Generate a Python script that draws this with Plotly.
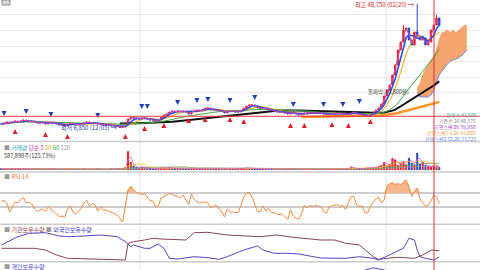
import plotly.graph_objects as go
import pandas as pd

# ---------------- data ----------------
close = [
    8190, 8530, 8870, 8530, 8870, 9200, 8870, 9200, 9540, 9200,
    8870, 9200, 8870, 8530, 8530, 8870, 8190, 8530, 8870, 8530,
    8190, 7850, 7850, 7510, 8190, 8530, 8190, 7850, 8190, 8190,
    8530, 8870, 8530, 8530, 8530, 8190, 8190, 7850, 7850, 7850,
    7510, 7510, 7350, 7010, 7180, 7850, 9880, 10560, 10220, 9880,
    9880, 10220, 10220, 9880, 9540, 9540, 9200, 9540, 10560, 11230,
    11570, 12250, 12580, 12250, 12580, 12250, 12580, 12250, 11570, 12580,
    12580, 12920, 12580, 12920, 13600, 13600, 12920, 12920, 12920, 12580,
    12580, 11910, 12580, 12580, 12580, 12250, 12250, 12920, 13600, 14270,
    14610, 14610, 14270, 13600, 13260, 13600, 13260, 12920, 12580, 12580,
    12250, 12250, 12250, 11910, 11570, 12250, 11910, 11570, 11230, 11570,
    11910, 11910, 12080, 11910, 11740, 11910, 11910, 11570, 11230, 11570,
    11570, 11570, 11910, 11570, 11570, 11230, 11570, 12250, 12250, 11570,
    11230, 11230, 10890, 10890, 11570, 12250, 12920, 13600, 14950, 17650,
    19680, 21370, 24750, 28130, 33200, 35900, 39960, 40640, 36580, 34890,
    39290, 37930, 36580, 37260, 34890, 35900, 39960, 41650, 44020, 41500,
]
first_open = 8300
wick_high_idx = [146, 151, 158]
wick_high_val = [41650, 48750, 45030]
wick_low_idx = [43]
wick_low_val = [6850]

volume = [
    320, 210, 180, 260, 400, 230, 190, 170, 300, 220,
    160, 180, 210, 250, 190, 170, 150, 200, 230, 280,
    190, 160, 170, 150, 260, 210, 180, 170, 150, 190,
    220, 180, 170, 160, 150, 240, 180, 170, 160, 150,
    210, 190, 230, 260, 310, 520, 3900, 1650, 900, 600,
    450, 700, 500, 380, 320, 280, 300, 260, 520, 480,
    420, 560, 400, 350, 420, 300, 330, 290, 310, 380,
    300, 350, 280, 300, 420, 360, 300, 260, 240, 250,
    230, 260, 240, 230, 210, 200, 220, 260, 360, 480,
    420, 340, 300, 280, 250, 260, 230, 220, 200, 190,
    200, 180, 190, 200, 220, 240, 210, 200, 220, 190,
    180, 200, 190, 180, 170, 190, 200, 210, 190, 180,
    170, 200, 190, 180, 210, 260, 300, 690, 400, 280,
    300, 250, 400, 450, 380, 500, 600, 800, 1000, 1660,
    900, 1200, 2490, 2070, 1040, 1400, 1800, 1200, 2490, 1450,
    1100, 3530, 1300, 1660, 1040, 800, 620, 900, 700, 588,
]

rsi = [
    57.9, 59.3, 55.7, 42.9, 50.0, 57.1, 55.7, 60.7, 63.6, 55.7,
    57.1, 54.3, 47.1, 43.6, 45.7, 47.1, 43.6, 50.0, 47.1, 43.6,
    39.3, 36.4, 37.1, 35.7, 47.1, 51.4, 42.9, 40.0, 43.6, 47.9,
    55.7, 59.3, 50.7, 55.0, 52.9, 44.3, 50.0, 45.7, 45.7, 44.3,
    42.9, 40.7, 38.6, 34.3, 27.1, 50.0, 74.3, 80.0, 74.3, 70.7,
    69.6, 67.9, 69.3, 64.3, 58.6, 58.6, 50.0, 51.4, 62.9, 65.0,
    67.1, 69.3, 67.9, 66.4, 65.0, 62.9, 67.1, 60.7, 53.6, 68.6,
    61.4, 57.4, 55.7, 57.1, 57.1, 55.7, 48.6, 50.7, 52.9, 47.1,
    43.6, 35.7, 47.1, 42.1, 42.9, 42.1, 42.1, 52.9, 63.6, 70.0,
    70.7, 64.3, 52.1, 43.3, 43.6, 51.4, 44.3, 47.9, 42.1, 42.1,
    40.0, 39.3, 40.0, 36.4, 32.1, 46.4, 36.4, 34.3, 32.1, 40.0,
    52.4, 48.6, 52.4, 50.7, 52.1, 51.4, 50.7, 43.3, 41.4, 50.0,
    51.4, 52.9, 53.6, 50.4, 52.4, 46.4, 55.7, 65.4, 65.0, 52.9,
    51.1, 51.4, 42.1, 41.4, 51.0, 57.1, 61.4, 64.3, 55.7, 60.0,
    80.0, 82.9, 85.0, 82.1, 83.6, 82.1, 86.1, 88.6, 78.6, 65.0,
    72.9, 77.1, 61.4, 55.7, 50.7, 52.9, 58.6, 66.4, 64.3, 55.0,
]

cloud_idx = list(range(151, 170))
span1 = [20360, 21710, 24750, 26440, 28130, 29820, 30840, 33200, 36580, 38950,
         39290, 39960, 38950, 39960, 38950, 39960, 40640, 41310, 41650]
span2 = [19010, 17320, 17320, 17320, 17320, 17990, 19680, 22390, 24750, 26100,
         27460, 28470, 29480, 29820, 30160, 30500, 31170, 32190, 33200]

sell_idx = [1, 9, 18, 35, 51, 53, 64, 71, 75, 83, 92, 106, 117, 124, 130]
sell_px = [10890, 11570, 10560, 10220, 13260, 13260, 14610, 15290, 15630, 15290,
           16300, 13940, 13940, 13940, 14950]
buy_idx = [5, 16, 24, 45, 52, 59, 68, 74, 83, 88, 105, 110, 120, 126, 134]
buy_px = [6500, 5490, 4810, 4810, 7510, 8530, 10220, 10560, 10560, 9880,
          8530, 8530, 8870, 8530, 9880]

foreign_idx = [0, 6, 10, 16, 21, 24, 30, 36, 42, 45, 47, 48, 52, 54, 57, 59, 61, 64, 70, 75,
               79, 82, 88, 93, 95, 99, 104, 108, 116, 125, 130, 135, 137, 140, 142, 146, 148,
               150, 151, 152, 154, 157, 159]
foreign_val = [170, 253, 287, 293, 260, 253, 260, 270, 253, 203, 153, 170, 137, 137, 180, 137,
               37, 30, 53, 43, 27, 53, 120, 160, 120, 87, 87, 80, 40, 37, 53, 37, 20, 60, 87,
               137, 237, 220, 120, 53, 37, 20, 53]
inst_idx = [0, 6, 12, 16, 20, 24, 30, 36, 44, 45, 46, 48, 52, 55, 58, 67, 70, 75, 82, 88,
            94, 100, 106, 116, 121, 125, 130, 135, 137, 140, 144, 150, 153, 156, 159]
inst_val = [137, 137, 137, 120, 70, 37, 30, 27, 20, 20, 187, 203, 220, 237, 230, 220, 293, 297,
            270, 260, 253, 270, 247, 220, 220, 187, 170, 53, 27, 37, 47, 37, 70, 120, 113]
indiv_idx = [0, 40, 80, 120, 131, 134, 135, 136, 137, 139, 145, 159]
indiv_val = [-60, -50, -70, -40, -10, 12, 22, 18, 8, -15, -40, -50]

breakout_price = 10800
cursor_idx = 157.1
period_marks = [50.3, 139.7]
price_grid = [45370, 39960, 34550, 29150, 23740, 18670]

# ---------------- derived ----------------
n = len(close)
idx = list(range(n))
opens = [first_open] + close[:-1]
highs = [max(o, c) for o, c in zip(opens, close)]
lows = [min(o, c) for o, c in zip(opens, close)]
for i, v in zip(wick_high_idx, wick_high_val):
    highs[i] = v
for i, v in zip(wick_low_idx, wick_low_val):
    lows[i] = v

s = pd.Series(close, dtype=float)
vs = pd.Series(volume, dtype=float)
UP, DN = '#e8202a', '#1f48d0'

fig = go.Figure()

# ichimoku cloud
fig.add_trace(go.Scatter(x=cloud_idx, y=span2, mode='lines', line=dict(color='#6a8ae8', width=1),
                         hoverinfo='skip'))
fig.add_trace(go.Scatter(x=cloud_idx, y=span1, mode='lines', line=dict(color='#f3a168', width=1),
                         fill='tonexty', fillcolor='#f4a46c', hoverinfo='skip'))

# moving averages (window, colour, width, min periods)
ma_specs = [(120, '#ff9428', 2.5, 110), (44, '#111111', 2, 44), (22, '#3fa83f', 1, 1),
            (7, '#f0a400', 1, 1), (4, '#2650e0', 1.6, 1), (2, '#e040a8', 1, 1)]
for w, col, lw, mp in ma_specs:
    ma = s.rolling(w, min_periods=mp).mean()
    fig.add_trace(go.Scatter(x=idx, y=ma.tolist(), mode='lines', line=dict(color=col, width=lw),
                             hoverinfo='skip'))

fig.add_trace(go.Candlestick(x=idx, open=opens, high=highs, low=lows, close=close,
                             increasing=dict(line=dict(color=UP, width=1), fillcolor=UP),
                             decreasing=dict(line=dict(color=DN, width=1), fillcolor=DN),
                             whiskerwidth=0, hoverinfo='skip'))

fig.add_trace(go.Scatter(x=sell_idx, y=sell_px, mode='markers',
                         marker=dict(symbol='arrow-down', size=5, color='#1f3fbf'), hoverinfo='skip'))
fig.add_trace(go.Scatter(x=buy_idx, y=buy_px, mode='markers',
                         marker=dict(symbol='arrow-up', size=5, color='#e0202a'), hoverinfo='skip'))

# volume
vcol = [UP if c >= o else DN for o, c in zip(opens, close)]
fig.add_trace(go.Bar(x=idx, y=volume, marker=dict(color=vcol, line=dict(width=0)), yaxis='y2',
                     hoverinfo='skip'))
for w, col in [(44, '#a0a0a0'), (22, '#50b060'), (7, '#f0c020'), (2, '#e060c8')]:
    fig.add_trace(go.Scatter(x=idx, y=vs.rolling(w, min_periods=1).mean().tolist(), mode='lines',
                             line=dict(color=col, width=0.8), yaxis='y2', hoverinfo='skip'))

# RSI
fig.add_trace(go.Scatter(x=idx, y=[70] * n, mode='lines', line=dict(width=0), yaxis='y3',
                         hoverinfo='skip'))
fig.add_trace(go.Scatter(x=idx, y=[max(r, 70) for r in rsi], mode='lines', line=dict(width=0),
                         fill='tonexty', fillcolor='#f6b98c', yaxis='y3', hoverinfo='skip'))
fig.add_trace(go.Scatter(x=idx, y=rsi, mode='lines', line=dict(color='#f08a40', width=1),
                         yaxis='y3', hoverinfo='skip'))

# holdings
fig.add_trace(go.Scatter(x=inst_idx, y=inst_val, mode='lines', line=dict(color='#8a4454', width=1),
                         yaxis='y4', hoverinfo='skip'))
fig.add_trace(go.Scatter(x=foreign_idx, y=foreign_val, mode='lines', line=dict(color='#5048c4', width=1),
                         yaxis='y4', hoverinfo='skip'))
fig.add_trace(go.Scatter(x=indiv_idx, y=indiv_val, mode='lines', line=dict(color='#5048c4', width=1),
                         yaxis='y5', hoverinfo='skip'))

H = 270.0


def py(px):
    return 1 - px / H


def hidden(**kw):
    d = dict(showticklabels=False, showgrid=False, zeroline=False, showline=False, ticks='',
             anchor='x', fixedrange=True)
    d.update(kw)
    return d


shapes = []
for xm in period_marks:
    shapes.append(dict(type='line', xref='x', yref='paper', x0=xm, x1=xm, y0=0, y1=1,
                       line=dict(color='#e2e2e2', width=1), layer='below'))
for ypx in [141.5, 172, 224.3, 261.7]:
    shapes.append(dict(type='line', xref='paper', yref='paper', x0=0, x1=1, y0=py(ypx), y1=py(ypx),
                       line=dict(color='#cbcbcb', width=1.5), layer='below'))
shapes.append(dict(type='line', xref='paper', yref='y', x0=0, x1=1, y0=breakout_price,
                   y1=breakout_price, line=dict(color='#f03a3a', width=1)))
shapes.append(dict(type='line', xref='x', yref='paper', x0=cursor_idx, x1=cursor_idx, y0=0, y1=1,
                   line=dict(color='#e03434', width=1)))
shapes.append(dict(type='rect', xref='paper', yref='paper', x0=2 / 480, x1=10 / 480, y0=py(5), y1=1,
                   fillcolor='#d8d8d8', line=dict(color='#8a8a8a', width=1)))


def ann(text, xpx, ypx, anchor='left', size=6, color='#333'):
    return dict(text=text, x=xpx / 480, y=py(ypx), xref='paper', yref='paper', xanchor=anchor,
                yanchor='middle', showarrow=False, font=dict(size=size, color=color))


SQ = "<span style='color:#9a9a9a'>■</span> "
annotations = [
    ann(SQ + "<span style='color:#2aa8b4'>거래량</span> <span style='color:#d43cc0'>단순 5</span> "
        "<span style='color:#e0b000'>20</span> <span style='color:#3caa50'>60</span> "
        "<span style='color:#9a9a9a'>120</span>", 2, 147.8, size=5.8),
    ann("587,898주(125.73%)", 2, 156, color='#333', size=5.6),
    ann(SQ + "<span style='color:#f07830'>RSI 14</span>", 2, 176),
    ann(SQ + "<span style='color:#8a3a48'>기관보유수량</span> " + SQ +
        "<span style='color:#3c34b0'>외국인보유수량</span>", 2, 229),
    ann(SQ + "<span style='color:#4a44c0'>개인보유수량</span>", 2, 266),
    ann("돌파막(10,800원)", 366, 92.5, color='#333', size=5.5),
    ann("현재가 41,500", 478, 114.5, 'right', 5, '#4a9a9a'),
    ann("기준선 26 40,575", 478, 120.5, 'right', 5, '#8a8a8a'),
    ann("후행스팬 26 39,950", 478, 126.5, 'right', 5, '#a03cc8'),
    ann("선행스팬1 9,26 41,000", 478, 132.5, 'right', 5, '#f0a050'),
    ann("선행스팬2 52,26 33,725", 478, 138.5, 'right', 5, '#6a8ae8'),
    dict(text="최고 48,750 (02/20) →", x=wick_high_idx[1], y=wick_high_val[1], xref='x', yref='y',
         xanchor='right', yanchor='middle', showarrow=False, xshift=-1,
         font=dict(size=6, color='#e02020')),
    dict(text="최저 6,850 (12/05) →", x=wick_low_idx[0], y=wick_low_val[0], xref='x', yref='y',
         xanchor='right', yanchor='middle', showarrow=False, xshift=-1,
         font=dict(size=6, color='#2040c0')),
]

fig.update_layout(
    width=480, height=270, margin=dict(l=0, r=0, t=0, b=0, pad=0),
    paper_bgcolor='white', plot_bgcolor='white', showlegend=False, bargap=0.25,
    font=dict(family='Noto Sans CJK KR, Noto Sans, sans-serif', size=6),
    xaxis=dict(range=[-0.5, 173.8], showgrid=False, zeroline=False, showticklabels=False,
               showline=False, ticks='', rangeslider=dict(visible=False), fixedrange=True),
    yaxis=dict(domain=[py(140), 1], range=[2782, 50102], tickvals=price_grid, showgrid=True,
               gridcolor='#e8e8e8', gridwidth=1, showticklabels=False, zeroline=False, ticks='',
               fixedrange=True),
    yaxis2=hidden(domain=[py(170), py(143)], range=[0, 5600]),
    yaxis3=hidden(domain=[py(222), py(172)], range=[28.57, 100], showgrid=True,
                  tickvals=[30, 50, 70], gridcolor='#cccccc', gridwidth=1.5),
    yaxis4=hidden(domain=[py(262), py(226)], range=[0, 360]),
    yaxis5=hidden(domain=[0, py(262)], range=[0, 80]),
    shapes=shapes, annotations=annotations,
)

fig.write_html("out.html")
